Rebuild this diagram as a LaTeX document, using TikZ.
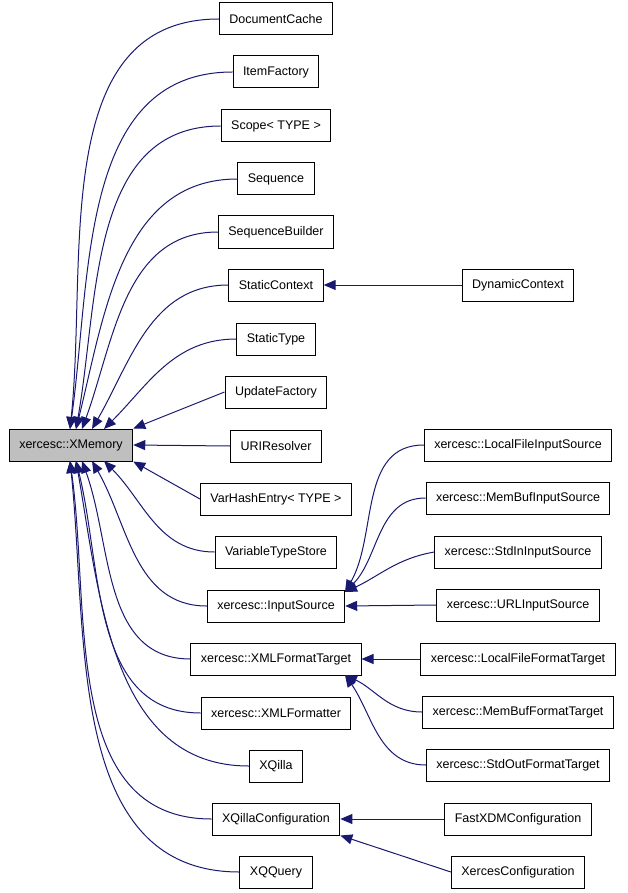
\documentclass[tikz,border=0pt]{standalone}
\usepackage{fontspec}
\setmainfont{Liberation Sans}
\usetikzlibrary{arrows.meta,positioning}
\definecolor{edgeblue}{HTML}{191970}

\begin{document}
\begin{tikzpicture}[x=1pt,y=-1pt,
    cls/.style={draw, line width=1pt, fill=white, minimum height=32pt, inner xsep=10pt, font=\fontsize{12.5}{14}\selectfont},
    base/.style={cls, fill=black!25},
    edge/.style={draw=edgeblue, line width=1pt, -{Triangle[width=10pt,length=12pt,fill=edgeblue]}}]
    \useasboundingbox (0,0) rectangle (627,893);

    \node[base] (xm) at (71,445) {xercesc::XMemory};

    \node[cls] (dc) at (276,19) {DocumentCache};
    \node[cls] (itf) at (276,72) {ItemFactory};
    \node[cls] (scp) at (276,126) {Scope< TYPE >};
    \node[cls] (seq) at (276,179) {Sequence};
    \node[cls] (sqb) at (276,232) {SequenceBuilder};
    \node[cls] (stc) at (276,285) {StaticContext};
    \node[cls] (stt) at (276,339) {StaticType};
    \node[cls] (upf) at (276,392) {UpdateFactory};
    \node[cls] (uri) at (276,446) {URIResolver};
    \node[cls] (vhe) at (276,499) {VarHashEntry< TYPE >};
    \node[cls] (vts) at (276,552) {VariableTypeStore};
    \node[cls] (ins) at (276,606) {xercesc::InputSource};
    \node[cls] (xft) at (276,659) {xercesc::XMLFormatTarget};
    \node[cls] (xfr) at (276,713) {xercesc::XMLFormatter};
    \node[cls] (xq) at (276,766) {XQilla};
    \node[cls] (xqc) at (276,819) {XQillaConfiguration};
    \node[cls] (xqq) at (276,872) {XQQuery};

    \node[cls] (dyc) at (518,285) {DynamicContext};
    \node[cls] (lfi) at (518,445) {xercesc::LocalFileInputSource};
    \node[cls] (mbi) at (518,498) {xercesc::MemBufInputSource};
    \node[cls] (sii) at (518,552) {xercesc::StdInInputSource};
    \node[cls] (uli) at (518,605) {xercesc::URLInputSource};
    \node[cls] (lft) at (518,659) {xercesc::LocalFileFormatTarget};
    \node[cls] (mbt) at (518,712) {xercesc::MemBufFormatTarget};
    \node[cls] (sot) at (518,765) {xercesc::StdOutFormatTarget};
    \node[cls] (fxc) at (518,819) {FastXDMConfiguration};
    \node[cls] (xsc) at (518,872) {XercesConfiguration};

    % upper children
    \coordinate (t1) at (70,429);
    \coordinate (t2) at (76,429);
    \coordinate (t3) at (82,429);
    \coordinate (t4) at (92,429);
    \coordinate (t5) at (104,429);
    \draw[edge] (dc.west) to[out=180,in=84] (t1);
    \draw[edge] (itf.west) to[out=180,in=82] (t1);
    \draw[edge] (scp.west) to[out=180,in=80] (t2);
    \draw[edge] (seq.west) to[out=180,in=76] (t2);
    \draw[edge] (sqb.west) to[out=180,in=70] (t3);
    \draw[edge] (stc.west) to[out=180,in=60] (t4);
    \draw[edge] (stt.west) to[out=180,in=45] (t5);
    \draw[edge] (upf.west) -- (xm.north east);
    \draw[edge] (uri.west) -- (xm.east);
    \draw[edge] (vhe.west) -- (xm.south east);
    % lower children
    \coordinate (b1) at (104,461);
    \coordinate (b2) at (92,461);
    \coordinate (b3) at (82,461);
    \coordinate (b4) at (76,461);
    \coordinate (b5) at (70,461);
    \draw[edge] (vts.west) to[out=180,in=-45] (b1);
    \draw[edge] (ins.west) to[out=180,in=-60] (b2);
    \draw[edge] (xft.west) to[out=180,in=-70] (b3);
    \draw[edge] (xfr.west) to[out=180,in=-76] (b4);
    \draw[edge] (xq.west) to[out=180,in=-80] (b4);
    \draw[edge] (xqc.west) to[out=180,in=-82] (b5);
    \draw[edge] (xqq.west) to[out=180,in=-84] (b5);

    \draw[edge] (dyc.west) -- (stc.east);

    \coordinate (isn) at (345,592);
    \draw[edge] (lfi.west) to[out=180,in=60] (isn);
    \draw[edge] (mbi.west) to[out=180,in=45] (isn);
    \draw[edge] (sii.west) to[out=190,in=25] (isn);
    \draw[edge] (uli.west) -- (ins.east);

    \coordinate (xfs) at (345,675);
    \draw[edge] (lft.west) -- (xft.east);
    \draw[edge] (mbt.west) to[out=180,in=-25] (xfs);
    \draw[edge] (sot.west) to[out=180,in=-55] (xfs);

    \draw[edge] (fxc.west) -- (xqc.east);
    \draw[edge] (xsc.west) -- (xqc.south east);
\end{tikzpicture}
\end{document}
